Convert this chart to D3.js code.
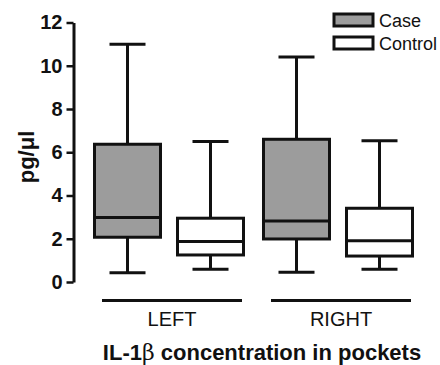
<!DOCTYPE html>
<html>
<head>
<meta charset="utf-8">
<script src="https://cdn.jsdelivr.net/npm/d3@7"></script>
<style>
  body { margin: 0; background: #fff; }
  text { font-family: "Liberation Sans", Arial, Helvetica, sans-serif; fill: #111; }
</style>
</head>
<body>
<svg id="chart" width="440" height="365"></svg>
<script>
// groups on the x axis and the two series
const groups = ["LEFT", "RIGHT"];
const series = ["Case", "Control"];
const yTicks = [0, 2, 4, 6, 8, 10, 12];

// box stats per series, in group order: [min, q1, median, q3, max]
const caseStats = [
  [0.43, 2.07, 2.98, 6.37, 11.0],
  [0.45, 1.99, 2.82, 6.6, 10.4]
];
const controlStats = [
  [0.59, 1.25, 1.87, 2.95, 6.5],
  [0.59, 1.2, 1.91, 3.41, 6.53]
];
const fills = { Case: "#9c9c9c", Control: "#ffffff" };

const svg = d3.select("#chart");
const ink = "#111";

const y = d3.scaleLinear().domain([0, 12]).range([282, 22.5]);

const xGroup = d3.scaleBand()
    .domain(groups)
    .range([102, 411])
    .paddingInner(29 / 169)
    .paddingOuter(0);

const xSeries = d3.scaleBand()
    .domain(series)
    .range([-7.5, 141.5])
    .paddingInner(17 / 83)
    .paddingOuter(0);

// y axis
const yAxis = svg.append("g")
    .attr("transform", "translate(73.5,0)")
    .call(d3.axisLeft(y).tickValues(yTicks).tickSize(7).tickSizeOuter(0).tickPadding(4));
yAxis.select(".domain").attr("stroke", ink).attr("stroke-width", 3);
yAxis.selectAll(".tick line").attr("stroke", ink).attr("stroke-width", 2.5);
yAxis.selectAll(".tick text")
    .attr("fill", ink)
    .style("font-size", "20px")
    .style("font-weight", "bold");

// y label
svg.append("text")
    .attr("transform", "translate(34,157) rotate(-90)")
    .attr("text-anchor", "middle")
    .style("font-size", "22px")
    .style("font-weight", "bold")
    .text("pg/\u03BCl");

// boxes
const rows = [];
groups.forEach((g, i) => {
  rows.push({ group: g, key: "Case", s: caseStats[i] });
  rows.push({ group: g, key: "Control", s: controlStats[i] });
});

const bw = xSeries.bandwidth();
const capW = 36;

const box = svg.append("g").selectAll("g")
    .data(rows)
    .join("g")
    .attr("transform", d => `translate(${xGroup(d.group) + xSeries(d.key)},0)`);

// whiskers
box.append("line")
    .attr("x1", bw / 2).attr("x2", bw / 2)
    .attr("y1", d => y(d.s[4])).attr("y2", d => y(d.s[3]))
    .attr("stroke", ink).attr("stroke-width", 3);
box.append("line")
    .attr("x1", bw / 2).attr("x2", bw / 2)
    .attr("y1", d => y(d.s[1])).attr("y2", d => y(d.s[0]))
    .attr("stroke", ink).attr("stroke-width", 3);
// caps
box.append("line")
    .attr("x1", bw / 2 - capW / 2).attr("x2", bw / 2 + capW / 2)
    .attr("y1", d => y(d.s[4])).attr("y2", d => y(d.s[4]))
    .attr("stroke", ink).attr("stroke-width", 3);
box.append("line")
    .attr("x1", bw / 2 - capW / 2).attr("x2", bw / 2 + capW / 2)
    .attr("y1", d => y(d.s[0])).attr("y2", d => y(d.s[0]))
    .attr("stroke", ink).attr("stroke-width", 3);
// box body
box.append("rect")
    .attr("x", 0)
    .attr("width", bw)
    .attr("y", d => y(d.s[3]))
    .attr("height", d => y(d.s[1]) - y(d.s[3]))
    .attr("fill", d => fills[d.key])
    .attr("stroke", ink).attr("stroke-width", 3);
// median
box.append("line")
    .attr("x1", 0).attr("x2", bw)
    .attr("y1", d => y(d.s[2])).attr("y2", d => y(d.s[2]))
    .attr("stroke", ink).attr("stroke-width", 3);

// group lines and labels
const grp = svg.append("g").selectAll("g")
    .data(groups)
    .join("g")
    .attr("transform", d => `translate(${xGroup(d)},0)`);
grp.append("line")
    .attr("x1", 0).attr("x2", xGroup.bandwidth())
    .attr("y1", 300.5).attr("y2", 300.5)
    .attr("stroke", ink).attr("stroke-width", 3);
grp.append("text")
    .attr("x", xGroup.bandwidth() / 2)
    .attr("y", 326)
    .attr("text-anchor", "middle")
    .style("font-size", "20px")
    .text(d => d);

// x title
const title = svg.append("text")
    .attr("x", 262)
    .attr("y", 360)
    .attr("text-anchor", "middle")
    .style("font-size", "22px")
    .style("font-weight", "bold");
title.append("tspan").text("IL-1");
title.append("tspan").style("font-family", "'DejaVu Serif', 'Liberation Serif', serif").style("font-weight", "normal").text("\u03B2");
title.append("tspan").text(" concentration in pockets");

// legend
const leg = svg.append("g").selectAll("g")
    .data(series)
    .join("g")
    .attr("transform", (d, i) => `translate(334,${14 + i * 23})`);
leg.append("rect")
    .attr("width", 39).attr("height", 12)
    .attr("fill", d => fills[d])
    .attr("stroke", ink).attr("stroke-width", 3);
leg.append("text")
    .attr("x", 45).attr("y", 13)
    .style("font-size", "18px")
    .text(d => d);
</script>
</body>
</html>
